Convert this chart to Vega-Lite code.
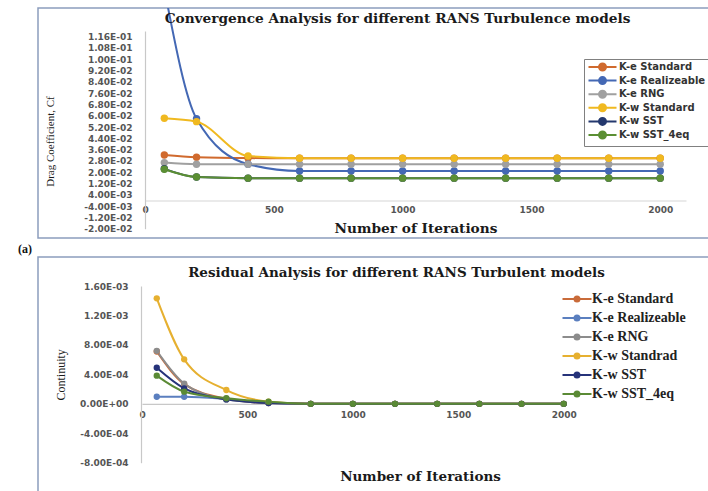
{
  "$schema": "https://vega.github.io/schema/vega-lite/v6.json",
  "background": "white",
  "padding": {"left": 17, "top": 7, "right": 0, "bottom": 0},
  "spacing": 0,
  "config": {
    "view": {"stroke": "#8C9DBD", "strokeWidth": 1.5},
    "axis": {"grid": false, "ticks": false, "labelFont": "DejaVu Sans", "labelFontWeight": "bold", "labelFontSize": 9, "labelColor": "#555555", "domainColor": "#C8C8C8", "domainWidth": 1.2, "titleColor": "#1a1a1a", "labelFlush": false, "labelOverlap": false},
    "title": {"font": "DejaVu Serif", "fontWeight": "bold", "fontSize": 13.7, "color": "#1a1a1a"}
  },
  "resolve": {"scale": {"x": "independent", "y": "independent", "color": "independent"}, "legend": {"color": "independent"}},
  "datasets": {
    "drag": [
      {"model": "K-e Standard", "iter": 75, "cf": 0.0322}, {"model": "K-e Standard", "iter": 200, "cf": 0.0306}, {"model": "K-e Standard", "iter": 400, "cf": 0.0300}, {"model": "K-e Standard", "iter": 600, "cf": 0.0299}, {"model": "K-e Standard", "iter": 800, "cf": 0.0299}, {"model": "K-e Standard", "iter": 1000, "cf": 0.0299}, {"model": "K-e Standard", "iter": 1200, "cf": 0.0299}, {"model": "K-e Standard", "iter": 1400, "cf": 0.0299}, {"model": "K-e Standard", "iter": 1600, "cf": 0.0299}, {"model": "K-e Standard", "iter": 1800, "cf": 0.0299}, {"model": "K-e Standard", "iter": 2000, "cf": 0.0299},
      {"model": "K-e Realizeable", "iter": 75, "cf": 0.150}, {"model": "K-e Realizeable", "iter": 200, "cf": 0.0579}, {"model": "K-e Realizeable", "iter": 400, "cf": 0.0257}, {"model": "K-e Realizeable", "iter": 600, "cf": 0.0209}, {"model": "K-e Realizeable", "iter": 800, "cf": 0.0209}, {"model": "K-e Realizeable", "iter": 1000, "cf": 0.0209}, {"model": "K-e Realizeable", "iter": 1200, "cf": 0.0209}, {"model": "K-e Realizeable", "iter": 1400, "cf": 0.0209}, {"model": "K-e Realizeable", "iter": 1600, "cf": 0.0209}, {"model": "K-e Realizeable", "iter": 1800, "cf": 0.0209}, {"model": "K-e Realizeable", "iter": 2000, "cf": 0.0209},
      {"model": "K-e RNG", "iter": 75, "cf": 0.0268}, {"model": "K-e RNG", "iter": 200, "cf": 0.0256}, {"model": "K-e RNG", "iter": 400, "cf": 0.0256}, {"model": "K-e RNG", "iter": 600, "cf": 0.0256}, {"model": "K-e RNG", "iter": 800, "cf": 0.0256}, {"model": "K-e RNG", "iter": 1000, "cf": 0.0256}, {"model": "K-e RNG", "iter": 1200, "cf": 0.0256}, {"model": "K-e RNG", "iter": 1400, "cf": 0.0256}, {"model": "K-e RNG", "iter": 1600, "cf": 0.0256}, {"model": "K-e RNG", "iter": 1800, "cf": 0.0256}, {"model": "K-e RNG", "iter": 2000, "cf": 0.0256},
      {"model": "K-w Standard", "iter": 75, "cf": 0.0582}, {"model": "K-w Standard", "iter": 200, "cf": 0.0558}, {"model": "K-w Standard", "iter": 400, "cf": 0.0315}, {"model": "K-w Standard", "iter": 600, "cf": 0.0299}, {"model": "K-w Standard", "iter": 800, "cf": 0.0299}, {"model": "K-w Standard", "iter": 1000, "cf": 0.0299}, {"model": "K-w Standard", "iter": 1200, "cf": 0.0299}, {"model": "K-w Standard", "iter": 1400, "cf": 0.0299}, {"model": "K-w Standard", "iter": 1600, "cf": 0.0299}, {"model": "K-w Standard", "iter": 1800, "cf": 0.0299}, {"model": "K-w Standard", "iter": 2000, "cf": 0.0299},
      {"model": "K-w SST", "iter": 75, "cf": 0.0224}, {"model": "K-w SST", "iter": 200, "cf": 0.0166}, {"model": "K-w SST", "iter": 400, "cf": 0.0158}, {"model": "K-w SST", "iter": 600, "cf": 0.0158}, {"model": "K-w SST", "iter": 800, "cf": 0.0158}, {"model": "K-w SST", "iter": 1000, "cf": 0.0158}, {"model": "K-w SST", "iter": 1200, "cf": 0.0158}, {"model": "K-w SST", "iter": 1400, "cf": 0.0158}, {"model": "K-w SST", "iter": 1600, "cf": 0.0158}, {"model": "K-w SST", "iter": 1800, "cf": 0.0158}, {"model": "K-w SST", "iter": 2000, "cf": 0.0158},
      {"model": "K-w SST_4eq", "iter": 75, "cf": 0.0221}, {"model": "K-w SST_4eq", "iter": 200, "cf": 0.0166}, {"model": "K-w SST_4eq", "iter": 400, "cf": 0.0158}, {"model": "K-w SST_4eq", "iter": 600, "cf": 0.0158}, {"model": "K-w SST_4eq", "iter": 800, "cf": 0.0158}, {"model": "K-w SST_4eq", "iter": 1000, "cf": 0.0158}, {"model": "K-w SST_4eq", "iter": 1200, "cf": 0.0158}, {"model": "K-w SST_4eq", "iter": 1400, "cf": 0.0158}, {"model": "K-w SST_4eq", "iter": 1600, "cf": 0.0158}, {"model": "K-w SST_4eq", "iter": 1800, "cf": 0.0158}, {"model": "K-w SST_4eq", "iter": 2000, "cf": 0.0158}
    ],
    "cont": [
      {"model": "K-e Standard", "iter": 70, "c": 0.00071}, {"model": "K-e Standard", "iter": 200, "c": 0.000268}, {"model": "K-e Standard", "iter": 400, "c": 0.00007}, {"model": "K-e Standard", "iter": 600, "c": 0.00001}, {"model": "K-e Standard", "iter": 800, "c": 0}, {"model": "K-e Standard", "iter": 1000, "c": 0}, {"model": "K-e Standard", "iter": 1200, "c": 0}, {"model": "K-e Standard", "iter": 1400, "c": 0}, {"model": "K-e Standard", "iter": 1600, "c": 0}, {"model": "K-e Standard", "iter": 1800, "c": 0}, {"model": "K-e Standard", "iter": 2000, "c": 0},
      {"model": "K-e Realizeable", "iter": 70, "c": 0.000096}, {"model": "K-e Realizeable", "iter": 200, "c": 0.000096}, {"model": "K-e Realizeable", "iter": 400, "c": 0.000065}, {"model": "K-e Realizeable", "iter": 600, "c": 0.000012}, {"model": "K-e Realizeable", "iter": 800, "c": 0}, {"model": "K-e Realizeable", "iter": 1000, "c": 0}, {"model": "K-e Realizeable", "iter": 1200, "c": 0}, {"model": "K-e Realizeable", "iter": 1400, "c": 0}, {"model": "K-e Realizeable", "iter": 1600, "c": 0}, {"model": "K-e Realizeable", "iter": 1800, "c": 0}, {"model": "K-e Realizeable", "iter": 2000, "c": 0},
      {"model": "K-e RNG", "iter": 70, "c": 0.00072}, {"model": "K-e RNG", "iter": 200, "c": 0.000275}, {"model": "K-e RNG", "iter": 400, "c": 0.00006}, {"model": "K-e RNG", "iter": 600, "c": 0.00001}, {"model": "K-e RNG", "iter": 800, "c": 0}, {"model": "K-e RNG", "iter": 1000, "c": 0}, {"model": "K-e RNG", "iter": 1200, "c": 0}, {"model": "K-e RNG", "iter": 1400, "c": 0}, {"model": "K-e RNG", "iter": 1600, "c": 0}, {"model": "K-e RNG", "iter": 1800, "c": 0}, {"model": "K-e RNG", "iter": 2000, "c": 0},
      {"model": "K-w Standrad", "iter": 70, "c": 0.001433}, {"model": "K-w Standrad", "iter": 200, "c": 0.000604}, {"model": "K-w Standrad", "iter": 400, "c": 0.000187}, {"model": "K-w Standrad", "iter": 600, "c": 0.000029}, {"model": "K-w Standrad", "iter": 800, "c": 0}, {"model": "K-w Standrad", "iter": 1000, "c": 0}, {"model": "K-w Standrad", "iter": 1200, "c": 0}, {"model": "K-w Standrad", "iter": 1400, "c": 0}, {"model": "K-w Standrad", "iter": 1600, "c": 0}, {"model": "K-w Standrad", "iter": 1800, "c": 0}, {"model": "K-w Standrad", "iter": 2000, "c": 0},
      {"model": "K-w SST", "iter": 70, "c": 0.00049}, {"model": "K-w SST", "iter": 200, "c": 0.00021}, {"model": "K-w SST", "iter": 400, "c": 0.00006}, {"model": "K-w SST", "iter": 600, "c": 0.00001}, {"model": "K-w SST", "iter": 800, "c": 0}, {"model": "K-w SST", "iter": 1000, "c": 0}, {"model": "K-w SST", "iter": 1200, "c": 0}, {"model": "K-w SST", "iter": 1400, "c": 0}, {"model": "K-w SST", "iter": 1600, "c": 0}, {"model": "K-w SST", "iter": 1800, "c": 0}, {"model": "K-w SST", "iter": 2000, "c": 0},
      {"model": "K-w SST_4eq", "iter": 70, "c": 0.000382}, {"model": "K-w SST_4eq", "iter": 200, "c": 0.000165}, {"model": "K-w SST_4eq", "iter": 400, "c": 0.000075}, {"model": "K-w SST_4eq", "iter": 600, "c": 0.000029}, {"model": "K-w SST_4eq", "iter": 800, "c": 0}, {"model": "K-w SST_4eq", "iter": 1000, "c": 0}, {"model": "K-w SST_4eq", "iter": 1200, "c": 0}, {"model": "K-w SST_4eq", "iter": 1400, "c": 0}, {"model": "K-w SST_4eq", "iter": 1600, "c": 0}, {"model": "K-w SST_4eq", "iter": 1800, "c": 0}, {"model": "K-w SST_4eq", "iter": 2000, "c": 0}
    ]
  },
  "vconcat": [
    {
      "width": 671,
      "height": 230,
      "title": {"text": "Convergence Analysis for different RANS Turbulence models", "offset": -18, "dx": 24},
      "encoding": {
        "x": {"field": "iter", "type": "quantitative", "scale": {"domain": [0, 2100], "range": [107, 648]},
          "axis": {"values": [0, 500, 1000, 1500, 2000], "format": "d", "offset": -37.5, "labelPadding": 5, "title": "Number of Iterations", "titleFont": "DejaVu Serif", "titleFontWeight": "bold", "titleFontSize": 13.7, "titlePadding": 7, "domainColor": "#D6D6D6"}},
        "y": {"field": "cf", "type": "quantitative", "scale": {"domain": [-0.02, 0.12], "range": [220.7, 23]},
          "axis": {"values": [-0.02, -0.012, -0.004, 0.004, 0.012, 0.02, 0.028, 0.036, 0.044, 0.052, 0.06, 0.068, 0.076, 0.084, 0.092, 0.1, 0.108, 0.116], "offset": -107, "labelPadding": 13,
            "labelExpr": "replace(replace(replace(format(datum.value, '.2e'), 'e-', 'E-0'), 'e+', 'E+0'), '\u2212', '-')",
            "title": "Drag Coefficient, Cf", "titleFont": "Liberation Serif", "titleFontWeight": "normal", "titleFontSize": 11, "titlePadding": 28, "titleY": 133}}
      },
      "layer": [
        {
          "data": {"name": "drag"},
          "mark": {"type": "line", "interpolate": "monotone", "strokeWidth": 2, "clip": true},
          "encoding": {
            "color": {"field": "model", "type": "nominal",
              "scale": {"domain": ["K-e Standard", "K-e Realizeable", "K-e RNG", "K-w Standard", "K-w SST", "K-w SST_4eq"], "range": ["#D06A2E", "#4468B4", "#A0A0A0", "#F0B920", "#24386E", "#5B8F33"]},
              "legend": {"orient": "none", "legendX": 546, "legendY": 51, "title": null, "padding": 3, "strokeColor": "#808080", "fillColor": "white",
                "labelFont": "DejaVu Sans", "labelFontWeight": "bold", "labelFontSize": 10, "labelColor": "#333333", "labelOffset": 22, "rowPadding": -2.4,
                "symbolType": "M-1,0H7M2,0A1,1,0,1,0,4,0A1,1,0,1,0,2,0", "symbolSize": 49, "symbolStrokeWidth": 2,
                "encode": {"symbols": {"update": {"fill": {"scale": "color", "field": "value"}, "stroke": {"scale": "color", "field": "value"}, "strokeWidth": {"value": 2}, "opacity": {"value": 1}}}}}}
          }
        },
        {
          "data": {"name": "drag"},
          "mark": {"type": "point", "filled": true, "size": 55, "opacity": 1, "clip": true},
          "encoding": {"color": {"field": "model", "type": "nominal"}}
        },
        {
          "data": {"values": [{"label": "(a)", "px": -466, "py": -0.0344}]},
          "mark": {"type": "text", "font": "Liberation Serif", "fontWeight": "bold", "fontSize": 12, "fill": "#111111", "clip": false},
          "encoding": {
            "x": {"field": "px", "type": "quantitative", "scale": {"domain": [0, 2100], "range": [107, 648]}},
            "y": {"field": "py", "type": "quantitative", "scale": {"domain": [-0.02, 0.12], "range": [220.7, 23]}},
            "text": {"field": "label", "type": "nominal"}
          }
        }
      ]
    },
    {
      "width": 671,
      "height": 240,
      "title": {"text": "Residual Analysis for different RANS Turbulent models", "offset": -22, "dx": 23, "fontSize": 13.5},
      "data": {"name": "cont"},
      "encoding": {
        "x": {"field": "iter", "type": "quantitative", "scale": {"domain": [0, 2000], "range": [104, 525.7]},
          "axis": {"values": [0, 500, 1000, 1500, 2000], "format": "d", "offset": -93.2, "labelPadding": 7, "title": "Number of Iterations", "titleFont": "DejaVu Serif", "titleFontWeight": "bold", "titleFontSize": 13.5, "titlePadding": 50, "titleX": 382, "domainColor": "#C8C8C8"}},
        "y": {"field": "c", "type": "quantitative", "scale": {"domain": [-0.0008, 0.0016], "range": [205.7, 29]},
          "axis": {"values": [-0.0008, -0.0004, 0, 0.0004, 0.0008, 0.0012, 0.0016], "offset": -103, "labelPadding": 13,
            "labelExpr": "replace(replace(replace(format(datum.value, '.2e'), 'e-', 'E-0'), 'e+', 'E+0'), '\u2212', '-')",
            "title": "Continuity", "titleFont": "Liberation Serif", "titleFontWeight": "normal", "titleFontSize": 12, "titlePadding": 12}},
        "color": {"field": "model", "type": "nominal",
          "scale": {"domain": ["K-e Standard", "K-e Realizeable", "K-e RNG", "K-w Standrad", "K-w SST", "K-w SST_4eq"], "range": ["#C96B3A", "#5B7FBF", "#8C8C8C", "#E6B030", "#26337A", "#5A8A35"]},
          "legend": {"orient": "none", "legendX": 520, "legendY": 35, "title": null, "padding": 0,
            "labelFont": "Liberation Serif", "labelFontWeight": "bold", "labelFontSize": 14, "labelColor": "#222222", "labelOffset": 20, "rowPadding": 5,
            "symbolType": "M-1,0H10.6M3.8,0A1,1,0,1,0,5.8,0A1,1,0,1,0,3.8,0", "symbolSize": 25, "symbolStrokeWidth": 2,
            "encode": {"symbols": {"update": {"fill": {"scale": "color", "field": "value"}, "stroke": {"scale": "color", "field": "value"}, "strokeWidth": {"value": 2}, "opacity": {"value": 1}}}}}}
      },
      "layer": [
        {"mark": {"type": "line", "interpolate": "monotone", "strokeWidth": 2, "clip": true}},
        {"mark": {"type": "point", "filled": true, "size": 40, "opacity": 1, "clip": true}}
      ]
    }
  ]
}
